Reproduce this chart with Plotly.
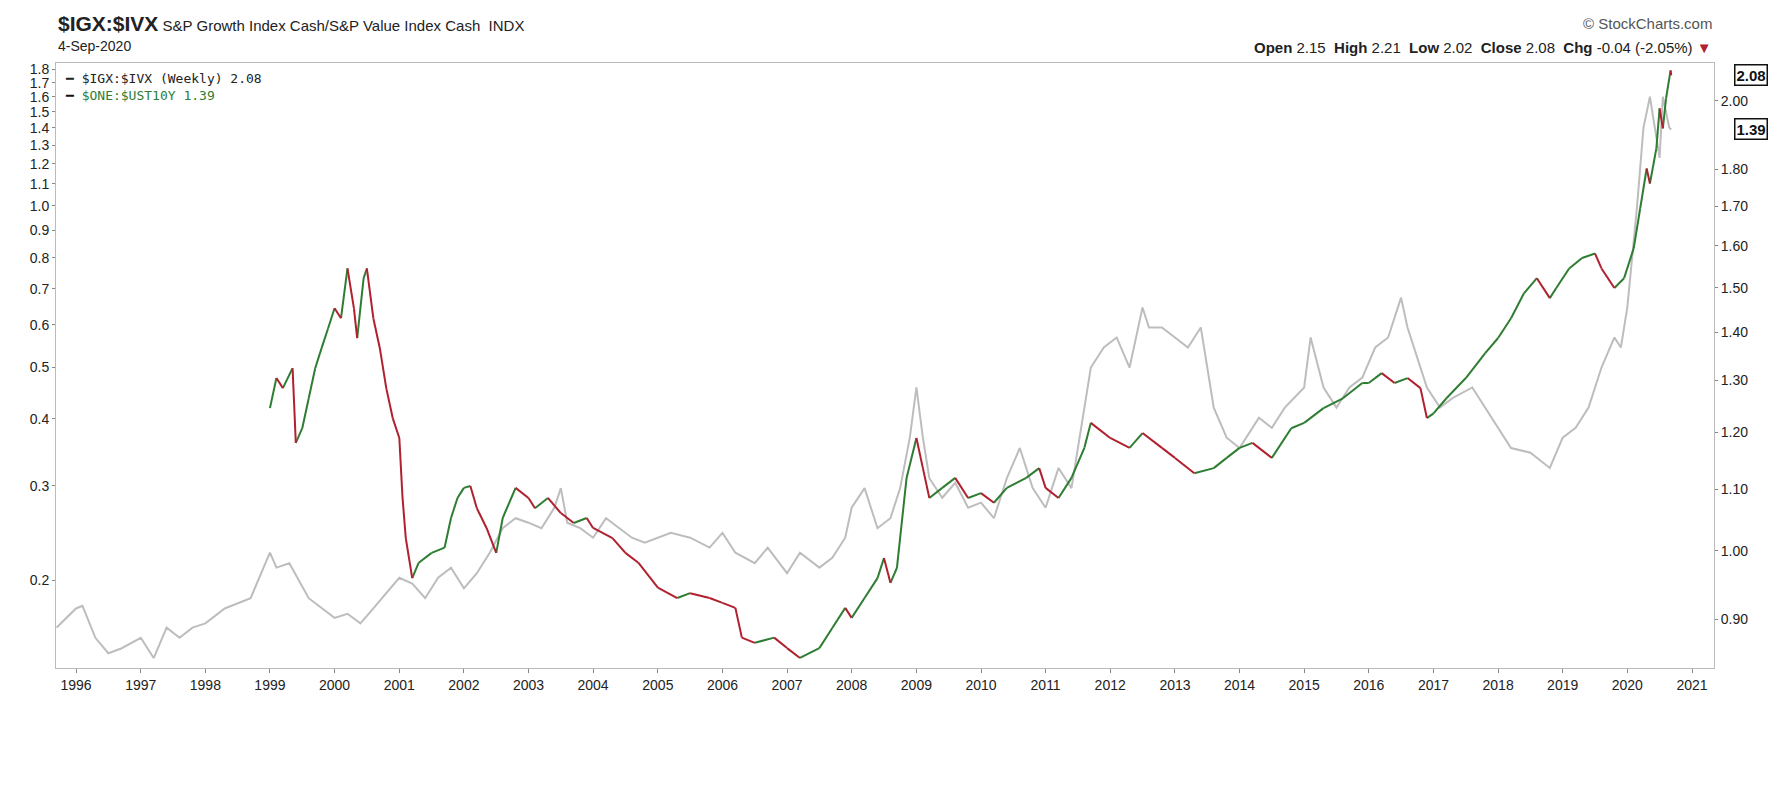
import plotly.graph_objects as go
import pandas as pd
import math

# $IGX:$IVX ratio (right axis) - decimal year, value
ratio_t = [1999.0,1999.1,1999.2,1999.35,1999.4,1999.5,1999.6,1999.7,1999.8,1999.9,2000.0,2000.1,2000.2,2000.3,2000.35,2000.45,2000.5,2000.6,2000.7,2000.8,2000.9,2001.0,2001.05,2001.1,2001.2,2001.3,2001.5,2001.7,2001.8,2001.9,2002.0,2002.1,2002.2,2002.35,2002.5,2002.6,2002.8,2003.0,2003.1,2003.3,2003.5,2003.7,2003.9,2004.0,2004.3,2004.5,2004.7,2005.0,2005.3,2005.5,2005.8,2006.0,2006.2,2006.3,2006.5,2006.8,2007.0,2007.2,2007.5,2007.7,2007.9,2008.0,2008.2,2008.4,2008.5,2008.6,2008.7,2008.85,2009.0,2009.1,2009.2,2009.4,2009.6,2009.8,2010.0,2010.2,2010.4,2010.7,2010.9,2011.0,2011.2,2011.4,2011.6,2011.7,2012.0,2012.3,2012.5,2012.8,2013.0,2013.3,2013.6,2013.8,2014.0,2014.2,2014.5,2014.8,2015.0,2015.3,2015.6,2015.9,2016.0,2016.2,2016.4,2016.6,2016.8,2016.9,2017.0,2017.2,2017.5,2017.8,2018.0,2018.2,2018.4,2018.6,2018.8,2018.9,2019.1,2019.3,2019.5,2019.6,2019.8,2019.95,2020.1,2020.2,2020.3,2020.35,2020.45,2020.5,2020.55,2020.6,2020.67,2020.68]
ratio_v = [1.246,1.305,1.285,1.325,1.181,1.208,1.265,1.325,1.367,1.409,1.453,1.431,1.545,1.453,1.388,1.522,1.545,1.431,1.367,1.285,1.227,1.190,1.085,1.020,0.959,0.982,0.997,1.005,1.052,1.085,1.102,1.105,1.068,1.036,0.997,1.052,1.102,1.085,1.068,1.085,1.060,1.044,1.052,1.036,1.020,0.997,0.982,0.945,0.930,0.937,0.930,0.923,0.916,0.875,0.868,0.875,0.861,0.848,0.861,0.888,0.916,0.902,0.930,0.959,0.989,0.952,0.974,1.119,1.190,1.136,1.085,1.102,1.119,1.085,1.093,1.077,1.102,1.119,1.136,1.102,1.085,1.119,1.172,1.218,1.190,1.172,1.199,1.172,1.154,1.127,1.136,1.154,1.172,1.181,1.154,1.208,1.218,1.246,1.265,1.295,1.295,1.315,1.295,1.305,1.285,1.227,1.236,1.265,1.305,1.356,1.388,1.431,1.487,1.522,1.476,1.499,1.545,1.570,1.581,1.545,1.499,1.522,1.594,1.695,1.802,1.761,1.859,1.977,1.917,2.008,2.096,2.080]

# $ONE:$UST10Y (left axis)
yld_t = [1995.7,1996.0,1996.1,1996.3,1996.5,1996.7,1997.0,1997.2,1997.4,1997.6,1997.8,1998.0,1998.3,1998.5,1998.7,1998.9,1999.0,1999.1,1999.3,1999.6,1999.8,2000.0,2000.2,2000.4,2000.6,2000.8,2001.0,2001.2,2001.4,2001.6,2001.8,2002.0,2002.2,2002.4,2002.6,2002.8,2003.0,2003.2,2003.4,2003.5,2003.6,2003.8,2004.0,2004.2,2004.4,2004.6,2004.8,2005.0,2005.2,2005.5,2005.8,2006.0,2006.2,2006.5,2006.7,2007.0,2007.2,2007.5,2007.7,2007.9,2008.0,2008.2,2008.4,2008.6,2008.75,2008.9,2009.0,2009.1,2009.2,2009.4,2009.6,2009.8,2010.0,2010.2,2010.4,2010.6,2010.8,2011.0,2011.2,2011.4,2011.6,2011.7,2011.9,2012.1,2012.3,2012.5,2012.6,2012.8,2013.0,2013.2,2013.4,2013.6,2013.8,2014.0,2014.3,2014.5,2014.7,2015.0,2015.1,2015.3,2015.5,2015.7,2015.9,2016.1,2016.3,2016.5,2016.6,2016.9,2017.1,2017.3,2017.6,2017.8,2018.0,2018.2,2018.5,2018.8,2019.0,2019.2,2019.4,2019.6,2019.8,2019.9,2020.0,2020.15,2020.25,2020.35,2020.5,2020.55,2020.65,2020.68]
yld_v = [0.163,0.177,0.179,0.156,0.146,0.149,0.156,0.143,0.163,0.156,0.163,0.166,0.177,0.181,0.185,0.211,0.225,0.211,0.215,0.185,0.177,0.170,0.173,0.166,0.177,0.189,0.202,0.197,0.185,0.202,0.211,0.193,0.206,0.225,0.250,0.261,0.256,0.250,0.273,0.297,0.256,0.250,0.240,0.261,0.250,0.240,0.235,0.240,0.245,0.240,0.230,0.245,0.225,0.215,0.230,0.206,0.225,0.211,0.220,0.240,0.273,0.297,0.250,0.261,0.297,0.369,0.458,0.369,0.310,0.285,0.304,0.273,0.279,0.261,0.310,0.353,0.297,0.273,0.324,0.297,0.420,0.499,0.544,0.568,0.499,0.646,0.593,0.593,0.568,0.544,0.593,0.420,0.369,0.353,0.402,0.385,0.420,0.458,0.568,0.458,0.420,0.458,0.478,0.544,0.568,0.674,0.593,0.458,0.420,0.438,0.458,0.420,0.385,0.353,0.346,0.324,0.369,0.385,0.420,0.499,0.568,0.544,0.646,0.994,1.40,1.60,1.23,1.60,1.40,1.39]

x_ticks = list(range(1996, 2022))
left_ticks = [0.2,0.3,0.4,0.5,0.6,0.7,0.8,0.9,1.0,1.1,1.2,1.3,1.4,1.5,1.6,1.7,1.8]
right_ticks = [0.90,1.00,1.10,1.20,1.30,1.40,1.50,1.60,1.70,1.80,2.00]

def to_dt(ts):
    out = []
    for t in ts:
        y = int(t)
        out.append(pd.Timestamp(year=y, month=1, day=1) + pd.Timedelta(days=(t - y) * 365.25))
    return out

rx = to_dt(ratio_t)
gx, gy, redx, redy = [], [], [], []
for i in range(len(rx) - 1):
    if ratio_v[i + 1] >= ratio_v[i]:
        gx += [rx[i], rx[i + 1], None]; gy += [ratio_v[i], ratio_v[i + 1], None]
    else:
        redx += [rx[i], rx[i + 1], None]; redy += [ratio_v[i], ratio_v[i + 1], None]

fig = go.Figure()
fig.add_trace(go.Scatter(x=to_dt(yld_t), y=yld_v, mode="lines", line=dict(color="#bdbdbd", width=2), yaxis="y"))
fig.add_trace(go.Scatter(x=gx, y=gy, mode="lines", line=dict(color="#2e7d32", width=2), yaxis="y2"))
fig.add_trace(go.Scatter(x=redx, y=redy, mode="lines", line=dict(color="#b0202e", width=2), yaxis="y2"))

fig.update_layout(
    width=1788, height=794, showlegend=False,
    plot_bgcolor="white", paper_bgcolor="white",
    margin=dict(l=48, r=82, t=55, b=134),
    font=dict(family="Liberation Sans", size=14, color="#222"),
    xaxis=dict(range=[pd.Timestamp("1995-09-10"), pd.Timestamp("2021-05-05")],
               tickvals=[pd.Timestamp(year=y, month=1, day=1) for y in x_ticks],
               ticktext=[str(y) for y in x_ticks], showgrid=False,
               showline=True, linecolor="#bbb", mirror=True, ticks="outside", ticklen=4, tickcolor="#888",
               tickfont=dict(size=14)),
    yaxis=dict(type="log", range=[math.log10(0.137), math.log10(1.85)], tickvals=left_ticks,
               ticktext=[f"{v:.1f}" for v in left_ticks], showgrid=False, showline=True, linecolor="#bbb",
               ticks="outside", ticklen=3, tickcolor="#888", tickfont=dict(size=14)),
    yaxis2=dict(type="log", overlaying="y", side="right", range=[math.log10(0.835), math.log10(2.12)],
                tickvals=right_ticks, ticktext=[f"{v:.2f}" for v in right_ticks], showgrid=False,
                showline=True, linecolor="#bbb",
                ticks="outside", ticklen=3, tickcolor="#888", tickfont=dict(size=14)),
)

fig.add_annotation(xref="paper", yref="paper", x=0, y=1, yshift=40, xanchor="left", yanchor="middle", showarrow=False,
                   text="<b><span style='font-size:21px'>$IGX:$IVX</span></b> S&P Growth Index Cash/S&P Value Index Cash  INDX",
                   font=dict(size=15))
fig.add_annotation(xref="paper", yref="paper", x=0, y=1, yshift=17, xanchor="left", yanchor="middle", showarrow=False,
                   text="4-Sep-2020", font=dict(size=14))
fig.add_annotation(xref="paper", yref="paper", x=1.0, y=1, yshift=40, xanchor="right", yanchor="middle", showarrow=False,
                   text="© StockCharts.com", font=dict(size=15, color="#555"))
fig.add_annotation(xref="paper", yref="paper", x=1.0, y=1, yshift=16, xanchor="right", yanchor="middle", showarrow=False,
                   text="<b>Open</b> 2.15  <b>High</b> 2.21  <b>Low</b> 2.02  <b>Close</b> 2.08  <b>Chg</b> -0.04 (-2.05%) <span style='color:#b0202e'>▼</span>",
                   font=dict(size=15))
fig.add_annotation(xref="paper", yref="paper", x=0.004, y=0.99, xanchor="left", yanchor="top", showarrow=False, align="left",
                   text="<b>━</b> $IGX:$IVX (Weekly) 2.08<br><span style='color:#2e7d32'><b style='color:#111'>━</b> $ONE:$UST10Y 1.39</span>",
                   font=dict(family="DejaVu Sans Mono", size=13))
fig.add_annotation(xref="paper", yref="y2", x=1.012, y=math.log10(2.08), xanchor="left", showarrow=False,
                   text="<b>2.08</b>", bordercolor="#111", borderwidth=1.5, bgcolor="white", font=dict(size=15, color="#111"), borderpad=1)
fig.add_annotation(xref="paper", yref="y", x=1.012, y=math.log10(1.39), xanchor="left", showarrow=False,
                   text="<b>1.39</b>", bordercolor="#111", borderwidth=1.5, bgcolor="white", font=dict(size=15, color="#111"), borderpad=1)

fig.write_html("out.html")
